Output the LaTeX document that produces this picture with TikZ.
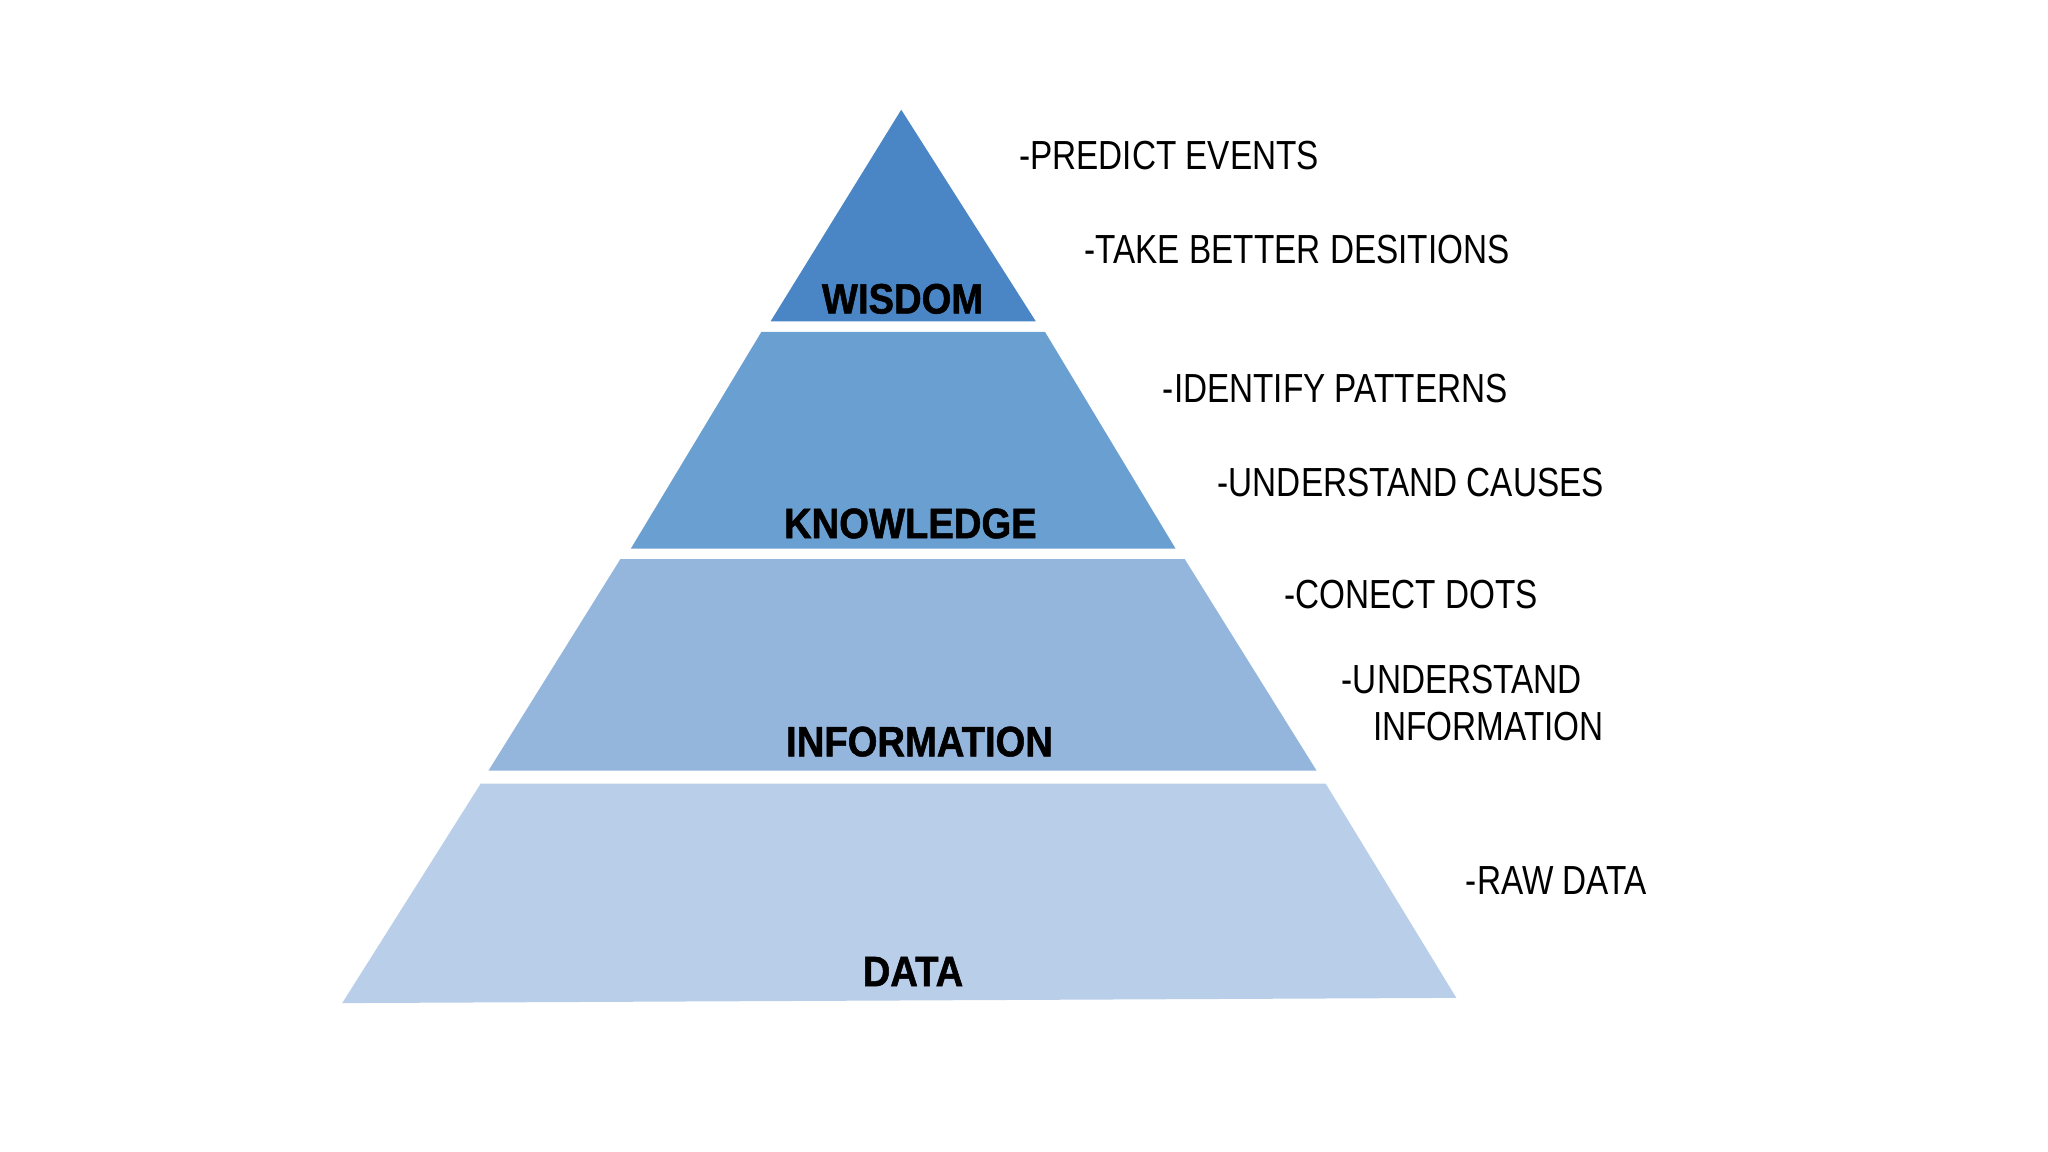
\documentclass[tikz,border=0pt]{standalone}
\usepackage{fontspec}
\setmainfont{Liberation Sans}
\newfontfamily\narrowfont[FakeStretch=0.82]{Liberation Sans}
\newfontfamily\heavyfont[FakeStretch=0.9, FakeBold=1.2]{Liberation Sans Bold}
\usepackage{xcolor}
\usepackage{tikz}

\definecolor{wisdomBlue}{RGB}{74,134,198}
\definecolor{knowledgeBlue}{RGB}{106,159,209}
\definecolor{informationBlue}{RGB}{148,182,221}
\definecolor{dataBlue}{RGB}{184,206,233}

\begin{document}
\begin{tikzpicture}[x=0.02cm, y=-0.02cm, tier/.style={draw=none}, tierlabel/.style={anchor=base, inner sep=0, font=\heavyfont\fontsize{18.5}{22}\selectfont}, note/.style={anchor=base west, inner sep=0, font=\narrowfont\fontsize{17.7}{21}\selectfont}]

\useasboundingbox (0,0) rectangle (1568,882);

\fill[tier, wisdomBlue]      (690,84)  -- (793,246) -- (590,246) -- cycle;
\fill[tier, knowledgeBlue]   (583,254) -- (800,254) -- (900,420) -- (483,420) -- cycle;
\fill[tier, informationBlue] (475,428) -- (907,428) -- (1008,590) -- (374,590) -- cycle;
\fill[tier, dataBlue]        (368,600) -- (1015,600) -- (1115,764) -- (262,768) -- cycle;

\node[tierlabel] (labelWisdom)      at (691,240) {WISDOM};
\node[tierlabel] (labelKnowledge)   at (697,412) {KNOWLEDGE};
\node[tierlabel] (labelInformation) at (704,579) {INFORMATION};
\node[tierlabel] (labelData)        at (699,755) {DATA};

\node[note] (notePredict)    at (780,130)  {-PREDICT EVENTS};
\node[note] (noteDecide)     at (830,202)  {-TAKE BETTER DESITIONS};
\node[note] (notePatterns)   at (890,308)  {-IDENTIFY PATTERNS};
\node[note] (noteCauses)     at (932,380)  {-UNDERSTAND CAUSES};
\node[note] (noteDots)       at (983,466)  {-CONECT DOTS};
\node[note] (noteUnderstand) at (1027,531) {-UNDERSTAND};
\node[note] (noteInfo)       at (1051,567) {INFORMATION};
\node[note] (noteRaw)        at (1122,685) {-RAW DATA};
\end{tikzpicture}
\end{document}
